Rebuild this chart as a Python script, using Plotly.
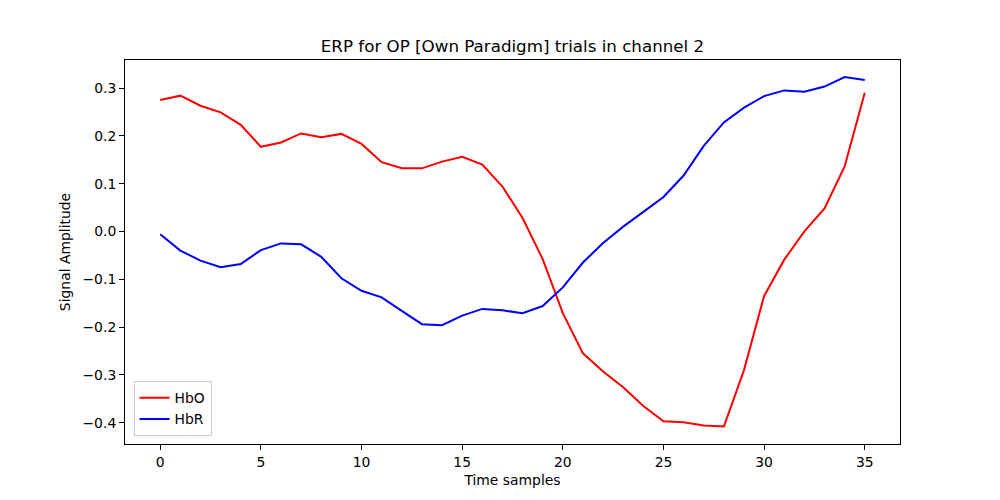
import plotly.graph_objects as go

time_samples = list(range(36))
hbo = [0.275, 0.284, 0.263, 0.249, 0.223, 0.177, 0.186, 0.205, 0.197, 0.204,
       0.183, 0.145, 0.132, 0.132, 0.146, 0.156, 0.140, 0.094, 0.028, -0.058,
       -0.171, -0.255, -0.293, -0.326, -0.365, -0.397, -0.399, -0.406, -0.408, -0.290,
       -0.135, -0.059, 0.000, 0.048, 0.136, 0.290]
hbr = [-0.006, -0.040, -0.061, -0.075, -0.068, -0.039, -0.025, -0.027, -0.053, -0.098,
       -0.124, -0.138, -0.166, -0.194, -0.196, -0.176, -0.162, -0.165, -0.171, -0.156,
       -0.117, -0.065, -0.024, 0.010, 0.041, 0.072, 0.117, 0.179, 0.228, 0.259,
       0.283, 0.295, 0.292, 0.303, 0.323, 0.317]
x_ticks = [0, 5, 10, 15, 20, 25, 30, 35]
y_ticks = [-0.4, -0.3, -0.2, -0.1, 0.0, 0.1, 0.2, 0.3]
y_tick_labels = ["−0.4", "−0.3", "−0.2", "−0.1", "0.0", "0.1", "0.2", "0.3"]

fig = go.Figure()
fig.add_trace(go.Scatter(x=time_samples, y=hbo, mode="lines", name="HbO",
                         line=dict(color="red", width=2)))
fig.add_trace(go.Scatter(x=time_samples, y=hbr, mode="lines", name="HbR",
                         line=dict(color="blue", width=2)))

font = "DejaVu Sans"
axis_common = dict(showline=True, linecolor="black", linewidth=1, mirror=True,
                   ticks="outside", ticklen=5, tickwidth=1, tickcolor="black",
                   showgrid=False, zeroline=False,
                   tickfont=dict(family=font, size=13.9, color="black"))
fig.update_layout(
    width=1000, height=500,
    margin=dict(l=125, r=100, t=60, b=56),
    paper_bgcolor="white", plot_bgcolor="white",
    title=dict(text="ERP for OP [Own Paradigm] trials in channel 2",
               x=0.5125, xanchor="center", y=0.908, yanchor="middle",
               font=dict(family=font, size=16.7, color="black")),
    xaxis=dict(range=[-1.75, 36.75], tickvals=x_ticks,
               title=dict(text="Time samples", font=dict(family=font, size=13.9, color="black"),
                          standoff=6),
               **axis_common),
    yaxis=dict(range=[-0.4446, 0.3586], tickvals=y_ticks, ticktext=y_tick_labels,
               title=dict(text="Signal Amplitude", font=dict(family=font, size=13.9, color="black"),
                          standoff=8),
               **axis_common),
    legend=dict(x=0.011, y=0.02, xanchor="left", yanchor="bottom",
                bgcolor="rgba(255,255,255,0.8)", bordercolor="#cccccc", borderwidth=1,
                font=dict(family=font, size=13.9, color="black"),
                tracegroupgap=0, itemwidth=30),
    showlegend=True,
)

fig.write_html("out.html")
